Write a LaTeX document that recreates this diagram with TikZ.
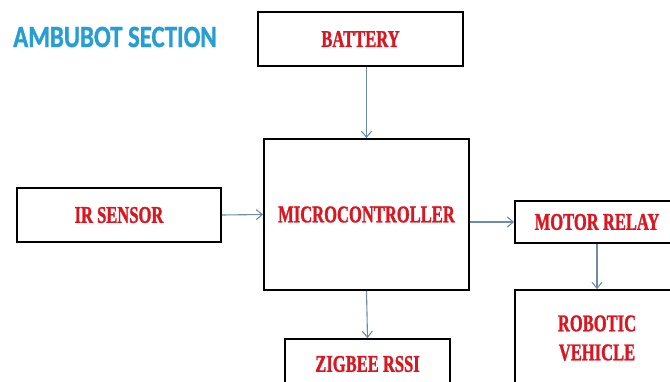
\documentclass[tikz,border=0pt]{standalone}
\usepackage{fontspec}
\usetikzlibrary{arrows.meta}
\newfontfamily\boxfont[FakeStretch=0.69,FakeBold=1.2]{Liberation Serif}
\newfontfamily\titlefont[FakeStretch=0.8,FakeBold=1]{Carlito}
\definecolor{boxred}{RGB}{218,22,32}
\definecolor{titleblue}{RGB}{38,158,212}
\definecolor{arrowc}{RGB}{110,140,168}
\begin{document}
\begin{tikzpicture}[x=1pt,y=-1pt,
  box/.style={draw=black, line width=1.8pt, inner sep=0pt, text=boxred, align=center,
    font=\boxfont\bfseries\fontsize{24}{29}\selectfont},
  conn/.style={draw=arrowc, line width=1.1pt, -{Straight Barb[length=6pt,width=10pt]}}]
\useasboundingbox (0,0) rectangle (670,382);
\clip (0,0) rectangle (670,382);
\node[font=\titlefont\bfseries\fontsize{31}{32}\selectfont, text=titleblue] (title) at (115,37) {AMBUBOT SECTION};
\node[box, minimum width=205pt, minimum height=54pt] (battery) at (360.5,39) {BATTERY};
\node[box, minimum width=205pt, minimum height=151pt] (micro) at (366.5,214.5) {MICROCONTROLLER};
\node[box, minimum width=204pt, minimum height=54pt] (ir) at (119,215) {IR SENSOR};
\node[box, minimum width=164pt, minimum height=42pt] (motor) at (597,222) {MOTOR RELAY};
\node[box, minimum width=164pt, minimum height=96pt] (robot) at (597,338) {ROBOTIC\\VEHICLE};
\node[box, minimum width=165pt, minimum height=50pt] (zigbee) at (367.5,364) {ZIGBEE RSSI};
\draw[conn] (battery.south -| micro.north) -- (micro.north);
\draw[conn] (ir.east) -- (micro.west);
\draw[conn] (micro.east |- motor.west) -- (motor.west);
\draw[conn] (motor.south) -- (robot.north);
\draw[conn] (micro.south) -- (zigbee.north);
\end{tikzpicture}
\end{document}
